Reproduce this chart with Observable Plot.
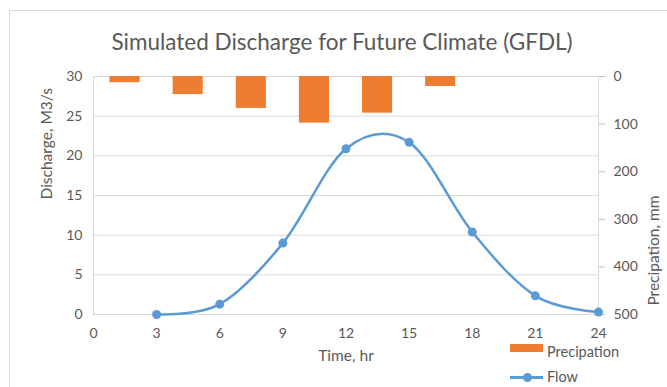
<!DOCTYPE html>
<html>
<head>
<meta charset="utf-8">
<script src="https://cdn.jsdelivr.net/npm/d3@7"></script>
<script src="https://cdn.jsdelivr.net/npm/@observablehq/plot@0.6"></script>
<style>
  html, body { margin: 0; padding: 0; background: #fff; }
  #wrap { position: relative; width: 667px; height: 387px; overflow: hidden; font-family: Lato, "Open Sans", sans-serif; color: #595959; }
  #border { position: absolute; left: 9px; top: 10px; width: 700px; height: 420px; border: 1px solid #d9d9d9; box-sizing: border-box; }
  #title { position: absolute; left: 0; width: 684px; top: 28px; text-align: center; font-size: 22.5px; font-weight: 400; line-height: 27px; }
  #chart { position: absolute; left: 0; top: 0; }
  .leg { position: absolute; font-size: 14.5px; line-height: 1; }
</style>
</head>
<body>
<div id="wrap">
  <div id="border"></div>
  <div id="chart"></div>
  <div id="title">Simulated Discharge for Future Climate (GFDL)</div>
  <div class="leg" style="left:510px;top:344px;width:33px;height:8px;background:#ED7D31"></div>
  <div class="leg" style="left:547px;top:344.5px;">Precipation</div>
  <div class="leg" style="left:510px;top:376px;width:33px;height:2.5px;background:#5B9BD5"></div>
  <div class="leg" style="left:522.5px;top:372.5px;width:9px;height:9px;border-radius:50%;background:#5B9BD5"></div>
  <div class="leg" style="left:547px;top:370px;">Flow</div>
</div>
<script>
// ---- data ----
const flowTimes = [3, 6, 9, 12, 15, 18, 21, 24];
const flowValues = [0, 1.3, 9.0, 20.9, 21.7, 10.4, 2.35, 0.3];
const precipStart = [0, 3, 6, 9, 12, 15];
const precipValues = [13, 38, 67, 98, 77, 21];
const xTicks = [0, 3, 6, 9, 12, 15, 18, 21, 24];
const leftTicks = [0, 5, 10, 15, 20, 25, 30];
const rightTicks = [0, 100, 200, 300, 400, 500];
const dischargeMax = 30;
const precipMax = 500;

// map precipitation (inverted secondary axis) onto the discharge scale
const toY = p => dischargeMax - p * dischargeMax / precipMax;
const fromY = v => Math.round((dischargeMax - v) * precipMax / dischargeMax);

const flow = flowTimes.map((t, i) => ({t, q: flowValues[i]}));
const precip = precipStart.map((s, i) => ({s, e: s + 3, p: precipValues[i]}));

const txt = "#595959";
const grid = "#d9d9d9";

const chart = Plot.plot({
  width: 667,
  height: 387,
  marginLeft: 93,
  marginRight: 69,
  marginTop: 76,
  marginBottom: 73,
  style: {fontFamily: "Lato, 'Open Sans', sans-serif", fontSize: "14px", background: "transparent", color: txt},
  x: {domain: [0, 24]},
  y: {domain: [0, dischargeMax]},
  marks: [
    Plot.gridY(leftTicks, {stroke: grid, strokeOpacity: 1}),
    Plot.ruleX([0, 24], {stroke: grid}),
    Plot.axisY(leftTicks, {anchor: "left", tickSize: 0, tickPadding: 11, label: null, fill: txt, fontSize: 14}),
    Plot.axisY(rightTicks.map(toY), {anchor: "right", tickSize: 6, tickPadding: 9, stroke: "#bfbfbf", label: null, fill: txt, fontSize: 14, tickFormat: fromY}),
    Plot.axisX(xTicks, {tickSize: 0, tickPadding: 14, label: null, fill: txt, fontSize: 14}),
    Plot.rectY(precip, {x1: "s", x2: "e", y1: dischargeMax, y2: d => toY(d.p), insetLeft: 16.5, insetRight: 16.5, fill: "#ED7D31"}),
    Plot.line(flow, {x: "t", y: "q", curve: "cardinal", stroke: "#5B9BD5", strokeWidth: 2.5}),
    Plot.dot(flow, {x: "t", y: "q", r: 4.5, fill: "#5B9BD5"}),
    Plot.text(["Discharge, M3/s"], {frameAnchor: "left", dx: -46, dy: 4, rotate: -90, fontSize: 15.5, fill: txt}),
    Plot.text(["Precipation, mm"], {frameAnchor: "right", dx: 56, rotate: -90, fontSize: 15.5, fill: txt}),
    Plot.text(["Time, hr"], {frameAnchor: "bottom", dy: 46, fontSize: 15.5, fill: txt})
  ]
});
document.getElementById("chart").appendChild(chart);
</script>
</body>
</html>
